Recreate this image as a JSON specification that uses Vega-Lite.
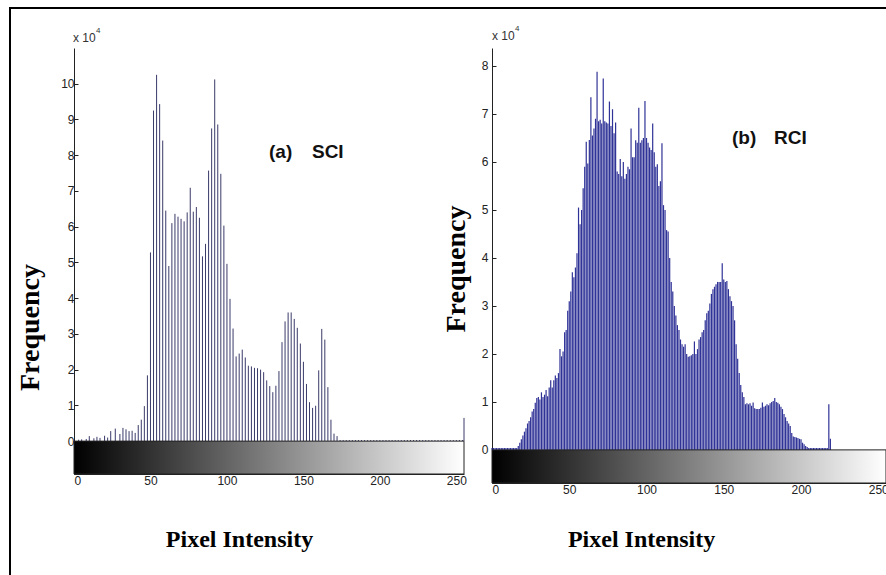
{
"$schema": "https://vega.github.io/schema/vega-lite/v6.json",
"width": 879, "height": 570,
"autosize": "none",
"padding": {"left": 10, "top": 8, "right": -3, "bottom": -3},
"background": "white",
"config": {"view": {"stroke": "black", "strokeWidth": 2}},
"datasets": {
"a": [{"i":3,"f":0.04},{"i":5,"f":0.05},{"i":8,"f":0.06},{"i":10,"f":0.14},{"i":13,"f":0.08},{"i":15,"f":0.12},{"i":17,"f":0.09},{"i":20,"f":0.15},{"i":22,"f":0.1},{"i":24,"f":0.28},{"i":27,"f":0.35},{"i":30,"f":0.2},{"i":32,"f":0.37},{"i":34,"f":0.33},{"i":36,"f":0.28},{"i":38,"f":0.29},{"i":40,"f":0.23},{"i":42,"f":0.45},{"i":44,"f":0.6},{"i":46,"f":0.98},{"i":48,"f":1.84},
{"i":50,"f":5.28},{"i":52,"f":9.25},{"i":54,"f":10.25},{"i":56,"f":9.43},{"i":58,"f":8.41},{"i":60,"f":6.45},{"i":62,"f":4.9},{"i":64,"f":6.1},{"i":66,"f":6.36},{"i":68,"f":6.28},{"i":70,"f":6.22},{"i":72,"f":6.15},{"i":74,"f":6.4},{"i":76,"f":7.09},{"i":78,"f":6.42},{"i":80,"f":6.55},{"i":82,"f":6.25},{"i":84,"f":5.17},{"i":86,"f":5.52},{"i":88,"f":7.57},{"i":90,"f":8.75},{"i":92,"f":10.12},{"i":94,"f":8.86},{"i":96,"f":7.48},{"i":98,"f":6.03},{"i":100,"f":4.96},{"i":102,"f":3.98},
{"i":104,"f":3.15},{"i":106,"f":2.37},{"i":108,"f":2.45},{"i":110,"f":2.56},{"i":112,"f":2.34},{"i":114,"f":2.11},{"i":116,"f":2.09},{"i":118,"f":2.05},{"i":120,"f":2.04},{"i":122,"f":2.0},{"i":124,"f":1.93},{"i":126,"f":1.7},{"i":128,"f":1.54},{"i":130,"f":1.37},{"i":132,"f":1.55},{"i":134,"f":1.96},{"i":136,"f":2.77},{"i":138,"f":3.35},{"i":140,"f":3.6},{"i":142,"f":3.6},{"i":144,"f":3.42},{"i":146,"f":3.17},{"i":148,"f":2.73},{"i":150,"f":2.22},{"i":152,"f":1.6},{"i":154,"f":1.09},{"i":156,"f":0.93},{"i":158,"f":0.99},{"i":160,"f":1.98},{"i":162,"f":3.14},{"i":164,"f":2.84},{"i":166,"f":1.51},{"i":168,"f":0.6},{"i":170,"f":0.21},{"i":172,"f":0.14},
{"i":174,"f":0.03},{"i":176,"f":0.03},{"i":178,"f":0.03},{"i":180,"f":0.03},{"i":182,"f":0.03},{"i":184,"f":0.03},{"i":186,"f":0.03},{"i":188,"f":0.03},{"i":190,"f":0.03},{"i":192,"f":0.03},{"i":194,"f":0.03},{"i":196,"f":0.03},{"i":198,"f":0.03},{"i":200,"f":0.03},{"i":202,"f":0.03},{"i":204,"f":0.03},{"i":206,"f":0.03},{"i":208,"f":0.03},{"i":210,"f":0.03},{"i":212,"f":0.03},{"i":214,"f":0.03},{"i":216,"f":0.03},{"i":218,"f":0.03},{"i":220,"f":0.03},{"i":222,"f":0.03},{"i":224,"f":0.03},{"i":226,"f":0.03},{"i":228,"f":0.03},{"i":230,"f":0.03},{"i":232,"f":0.03},{"i":234,"f":0.03},{"i":236,"f":0.03},{"i":238,"f":0.03},{"i":240,"f":0.03},{"i":242,"f":0.03},{"i":244,"f":0.03},{"i":246,"f":0.03},{"i":248,"f":0.03},{"i":250,"f":0.03},{"i":252,"f":0.03},{"i":254,"f":0.03},{"i":255,"f":0.65}],
"b": [{"i":0,"f":0.04},{"i":1,"f":0.04},{"i":2,"f":0.04},{"i":3,"f":0.04},{"i":4,"f":0.04},{"i":5,"f":0.04},{"i":6,"f":0.04},{"i":7,"f":0.04},{"i":8,"f":0.04},{"i":9,"f":0.04},{"i":10,"f":0.04},{"i":11,"f":0.04},{"i":12,"f":0.04},{"i":13,"f":0.04},{"i":14,"f":0.04},{"i":15,"f":0.04},{"i":16,"f":0.04},
{"i":17,"f":0.08},{"i":18,"f":0.15},{"i":19,"f":0.22},{"i":20,"f":0.3},{"i":21,"f":0.38},{"i":22,"f":0.45},{"i":23,"f":0.55},{"i":24,"f":0.6},{"i":25,"f":0.68},{"i":26,"f":0.8},{"i":27,"f":0.85},{"i":28,"f":0.98},{"i":29,"f":1.08},{"i":30,"f":1.1},{"i":31,"f":1.05},{"i":32,"f":1.2},{"i":33,"f":1.1},{"i":34,"f":1.15},{"i":35,"f":1.25},{"i":36,"f":1.12},{"i":37,"f":1.3},{"i":38,"f":1.45},{"i":39,"f":1.3},{"i":40,"f":1.45},{"i":41,"f":1.55},{"i":42,"f":1.5},{"i":43,"f":1.6},{"i":44,"f":2.1},{"i":45,"f":1.95},{"i":46,"f":2.05},{"i":47,"f":2.45},{"i":48,"f":2.5},{"i":49,"f":2.9},
{"i":50,"f":3.1},{"i":51,"f":3.3},{"i":52,"f":3.7},{"i":53,"f":3.6},{"i":54,"f":3.8},{"i":55,"f":4.1},{"i":56,"f":5.05},{"i":57,"f":4.7},{"i":58,"f":5.0},{"i":59,"f":5.45},{"i":60,"f":5.9},{"i":61,"f":6.42},{"i":62,"f":5.97},{"i":63,"f":6.46},{"i":64,"f":7.35},{"i":65,"f":6.55},{"i":66,"f":6.7},{"i":67,"f":6.9},{"i":68,"f":7.88},{"i":69,"f":6.85},{"i":70,"f":6.88},{"i":71,"f":6.8},{"i":72,"f":7.74},{"i":73,"f":6.85},{"i":74,"f":6.82},{"i":75,"f":6.8},{"i":76,"f":7.26},{"i":77,"f":6.75},{"i":78,"f":7.1},{"i":79,"f":6.6},{"i":80,"f":6.82},{"i":81,"f":5.8},{"i":82,"f":5.75},{"i":83,"f":6.06},{"i":84,"f":5.7},{"i":85,"f":6.0},{"i":86,"f":5.65},{"i":87,"f":5.75},{"i":88,"f":5.9},{"i":89,"f":5.85},{"i":90,"f":6.7},{"i":91,"f":6.1},{"i":92,"f":6.1},{"i":93,"f":6.45},{"i":94,"f":6.4},{"i":95,"f":7.13},{"i":96,"f":6.4},{"i":97,"f":6.45},{"i":98,"f":6.5},{"i":99,"f":7.27},
{"i":100,"f":6.5},{"i":101,"f":6.4},{"i":102,"f":6.3},{"i":103,"f":6.25},{"i":104,"f":6.8},{"i":105,"f":6.2},{"i":106,"f":5.9},{"i":107,"f":5.95},{"i":108,"f":5.5},{"i":109,"f":5.6},{"i":110,"f":6.39},{"i":111,"f":5.1},{"i":112,"f":5.0},{"i":113,"f":4.58},{"i":114,"f":4.55},{"i":115,"f":4.0},{"i":116,"f":3.5},{"i":117,"f":3.3},{"i":118,"f":3.0},{"i":119,"f":2.8},{"i":120,"f":2.6},{"i":121,"f":2.5},{"i":122,"f":2.3},{"i":123,"f":2.2},{"i":124,"f":2.15},{"i":125,"f":2.2},{"i":126,"f":2.0},{"i":127,"f":1.94},{"i":128,"f":1.95},{"i":129,"f":1.97},{"i":130,"f":2.0},{"i":131,"f":2.26},{"i":132,"f":2.0},{"i":133,"f":2.1},{"i":134,"f":2.3},{"i":135,"f":2.35},{"i":136,"f":2.45},{"i":137,"f":2.5},{"i":138,"f":2.7},{"i":139,"f":2.85},{"i":140,"f":2.9},{"i":141,"f":3.05},{"i":142,"f":3.25},{"i":143,"f":3.35},{"i":144,"f":3.4},{"i":145,"f":3.45},{"i":146,"f":3.5},{"i":147,"f":3.5},{"i":148,"f":3.5},{"i":149,"f":3.89},
{"i":150,"f":3.55},{"i":151,"f":3.5},{"i":152,"f":3.52},{"i":153,"f":3.35},{"i":154,"f":3.2},{"i":155,"f":3.1},{"i":156,"f":3.0},{"i":157,"f":2.7},{"i":158,"f":2.2},{"i":159,"f":1.9},{"i":160,"f":1.6},{"i":161,"f":1.35},{"i":162,"f":1.2},{"i":163,"f":1.1},{"i":164,"f":0.95},{"i":165,"f":0.97},{"i":166,"f":0.95},{"i":167,"f":0.97},{"i":168,"f":0.92},{"i":169,"f":0.99},{"i":170,"f":0.87},{"i":171,"f":0.85},{"i":172,"f":0.85},{"i":173,"f":0.85},{"i":174,"f":0.88},{"i":175,"f":0.99},{"i":176,"f":0.9},{"i":177,"f":0.92},{"i":178,"f":0.95},{"i":179,"f":0.93},{"i":180,"f":0.97},{"i":181,"f":1.0},{"i":182,"f":1.02},{"i":183,"f":1.08},{"i":184,"f":1.0},{"i":185,"f":0.98},{"i":186,"f":0.95},{"i":187,"f":0.9},{"i":188,"f":0.85},{"i":189,"f":0.75},{"i":190,"f":0.68},{"i":191,"f":0.6},{"i":192,"f":0.55},{"i":193,"f":0.5},{"i":194,"f":0.35},{"i":195,"f":0.28},{"i":196,"f":0.27},{"i":197,"f":0.26},{"i":198,"f":0.25},{"i":199,"f":0.23},
{"i":200,"f":0.22},{"i":201,"f":0.15},{"i":202,"f":0.12},{"i":203,"f":0.08},{"i":204,"f":0.06},{"i":205,"f":0.04},{"i":206,"f":0.04},{"i":207,"f":0.04},{"i":208,"f":0.04},{"i":209,"f":0.04},{"i":210,"f":0.04},{"i":211,"f":0.04},{"i":212,"f":0.04},{"i":213,"f":0.04},{"i":214,"f":0.04},{"i":215,"f":0.04},{"i":216,"f":0.04},{"i":217,"f":0.04},{"i":218,"f":0.95},{"i":219,"f":0.23}]
},
"layer": [
{
"layer": [
{"data": {"name": "a"},
 "mark": {"type": "rule", "color": "#3a3a6a", "strokeWidth": 1},
 "encoding": {
  "x": {"field": "i", "type": "quantitative", "scale": {"domain": [0, 255], "range": [64, 454], "nice": false, "zero": false},
        "axis": {"orient": "bottom", "offset": -104, "values": [0, 50, 100, 150, 200, 250], "format": "d", "title": null, "grid": false, "labelFont": "Liberation Sans", "labelFontSize": 12, "labelColor": "#222", "domainColor": "#222", "tickColor": "#222", "tickSize": -4, "labelPadding": 5}},
  "y": {"field": "f", "type": "quantitative", "scale": {"domain": [-0.92, 11], "range": [466, 40], "nice": false, "zero": false},
        "axis": {"orient": "left", "offset": -64, "values": [0, 1, 2, 3, 4, 5, 6, 7, 8, 9, 10], "format": "d", "title": null, "grid": false, "labelFont": "Liberation Sans", "labelFontSize": 12, "labelColor": "#222", "domainColor": "#222", "tickColor": "#222", "tickSize": -4, "labelPadding": 4}},
  "y2": {"datum": 0}
 }},
{"data": {"values": [{}]},
 "mark": {"type": "rect", "fill": {"gradient": "linear", "stops": [{"offset": 0, "color": "#000000"}, {"offset": 1, "color": "#ffffff"}]}, "stroke": "#222", "strokeWidth": 1},
 "encoding": {"x": {"datum": 0}, "x2": {"datum": 255}, "y": {"datum": -0.92}, "y2": {"datum": 0}}},
{"data": {"values": [{"t": "(a)", "px": 127.5, "py": 8.09}, {"t": "SCI", "px": 155.6, "py": 8.09}]},
 "mark": {"type": "text", "font": "Liberation Sans", "fontWeight": "bold", "fontSize": 19, "align": "left", "baseline": "middle", "color": "#111"},
 "encoding": {"x": {"field": "px", "type": "quantitative"}, "y": {"field": "py", "type": "quantitative"}, "text": {"field": "t"}}},
{"data": {"values": [{}]},
 "mark": {"type": "text", "text": "x 10", "font": "Liberation Sans", "fontSize": 12, "align": "left", "baseline": "middle", "color": "#333", "dx": -1},
 "encoding": {"x": {"datum": 0}, "y": {"datum": 11.29}}},
{"data": {"values": [{}]},
 "mark": {"type": "text", "text": "4", "font": "Liberation Sans", "fontSize": 8, "align": "left", "baseline": "middle", "color": "#333", "dx": 22, "dy": -7},
 "encoding": {"x": {"datum": 0}, "y": {"datum": 11.29}}},
{"data": {"values": [{}]},
 "mark": {"type": "text", "text": "Frequency", "font": "Liberation Serif", "fontWeight": "bold", "fontSize": 28, "align": "center", "baseline": "alphabetic", "angle": 270, "color": "#000"},
 "encoding": {"x": {"datum": -23.2}, "y": {"datum": 3.18}}},
{"data": {"values": [{}]},
 "mark": {"type": "text", "text": "Pixel Intensity", "font": "Liberation Serif", "fontWeight": "bold", "fontSize": 24, "align": "center", "baseline": "alphabetic", "color": "#000"},
 "encoding": {"x": {"datum": 108.2}, "y": {"datum": -2.97}}}
]
},
{
"layer": [
{"data": {"name": "b"},
 "mark": {"type": "rule", "color": "#2f3296", "strokeWidth": 1.2},
 "encoding": {
  "x": {"field": "i", "type": "quantitative", "scale": {"domain": [0, 255], "range": [482, 876], "nice": false, "zero": false},
        "axis": {"orient": "bottom", "offset": -95, "values": [0, 50, 100, 150, 200, 250], "format": "d", "title": null, "grid": false, "labelFont": "Liberation Sans", "labelFontSize": 12, "labelColor": "#222", "domainColor": "#222", "tickColor": "#222", "tickSize": -4, "labelPadding": 5}},
  "y": {"field": "f", "type": "quantitative", "scale": {"domain": [-0.69, 8.375], "range": [475, 40], "nice": false, "zero": false},
        "axis": {"orient": "left", "offset": -482, "values": [0, 1, 2, 3, 4, 5, 6, 7, 8], "format": "d", "title": null, "grid": false, "labelFont": "Liberation Sans", "labelFontSize": 12, "labelColor": "#222", "domainColor": "#222", "tickColor": "#222", "tickSize": -4, "labelPadding": 8}},
  "y2": {"datum": 0}
 }},
{"data": {"values": [{}]},
 "mark": {"type": "rect", "fill": {"gradient": "linear", "stops": [{"offset": 0, "color": "#000000"}, {"offset": 1, "color": "#ffffff"}]}, "stroke": "#222", "strokeWidth": 1},
 "encoding": {"x": {"datum": 0}, "x2": {"datum": 255}, "y": {"datum": -0.69}, "y2": {"datum": 0}}},
{"data": {"values": [{"t": "(b)", "px": 155.3, "py": 6.5}, {"t": "RCI", "px": 182.5, "py": 6.5}]},
 "mark": {"type": "text", "font": "Liberation Sans", "fontWeight": "bold", "fontSize": 19, "align": "left", "baseline": "middle", "color": "#111"},
 "encoding": {"x": {"field": "px", "type": "quantitative"}, "y": {"field": "py", "type": "quantitative"}, "text": {"field": "t"}}},
{"data": {"values": [{}]},
 "mark": {"type": "text", "text": "x 10", "font": "Liberation Sans", "fontSize": 12, "align": "left", "baseline": "middle", "color": "#333", "dx": 0},
 "encoding": {"x": {"datum": 0}, "y": {"datum": 8.625}}},
{"data": {"values": [{}]},
 "mark": {"type": "text", "text": "4", "font": "Liberation Sans", "fontSize": 8, "align": "left", "baseline": "middle", "color": "#333", "dx": 23, "dy": -7},
 "encoding": {"x": {"datum": 0}, "y": {"datum": 8.625}}},
{"data": {"values": [{}]},
 "mark": {"type": "text", "text": "Frequency", "font": "Liberation Serif", "fontWeight": "bold", "fontSize": 28, "align": "center", "baseline": "alphabetic", "angle": 270, "color": "#000"},
 "encoding": {"x": {"datum": -17.5}, "y": {"datum": 3.77}}},
{"data": {"values": [{}]},
 "mark": {"type": "text", "text": "Pixel Intensity", "font": "Liberation Serif", "fontWeight": "bold", "fontSize": 24, "align": "center", "baseline": "alphabetic", "color": "#000"},
 "encoding": {"x": {"datum": 96.8}, "y": {"datum": -2.02}}}
]
}
],
"resolve": {"scale": {"x": "independent", "y": "independent"}, "axis": {"x": "independent", "y": "independent"}}
}
